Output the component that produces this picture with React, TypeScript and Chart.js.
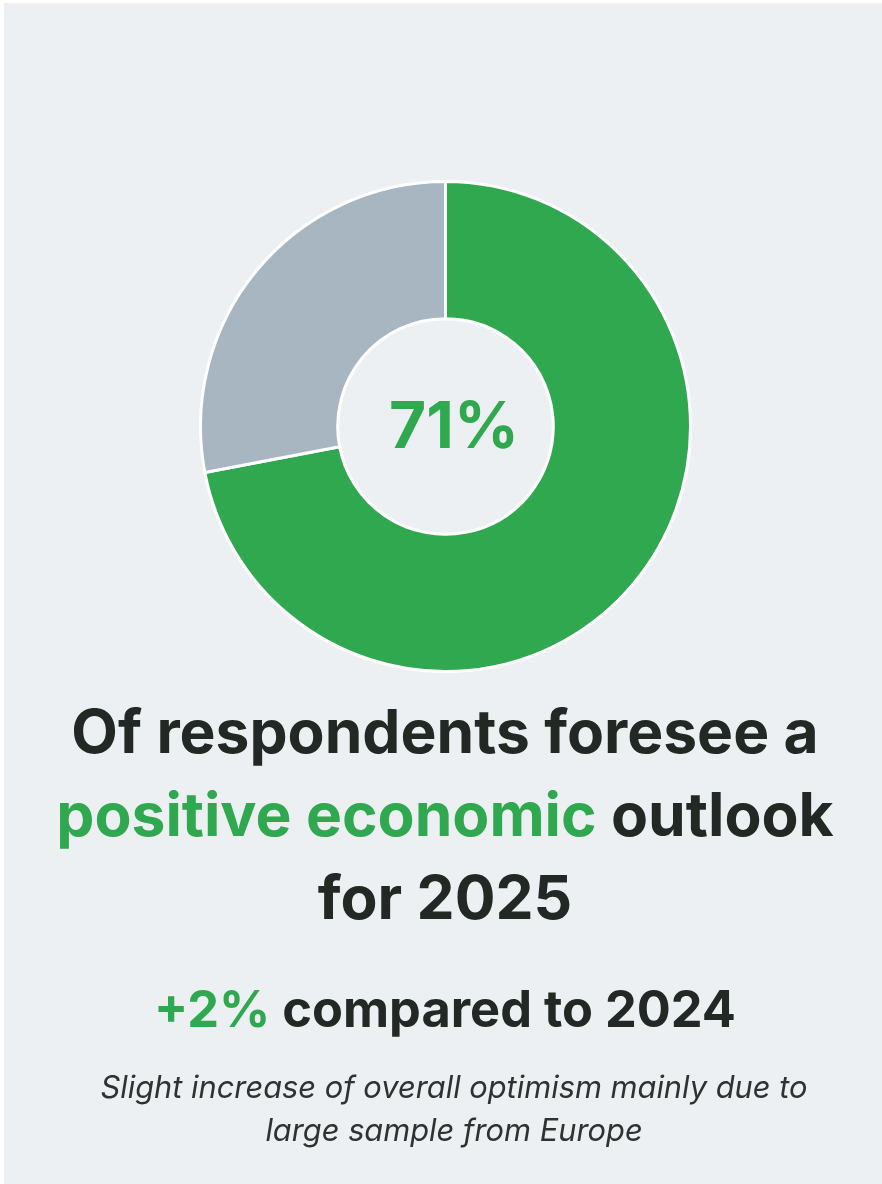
import React, { useEffect, useRef } from "react";
import { Chart, registerables } from "chart.js";

Chart.register(...registerables);

const categories = ["Positive outlook", "Other"];
const values = [72, 28];
const colors = ["#2fa84f", "#a8b6c1"];
const centerLabel = "71%";

const GREEN = "#2fa84f";
const DARK = "#222823";
const BG = "#edf0f3";

export default function App() {
  const ref = useRef<HTMLCanvasElement | null>(null);

  useEffect(() => {
    if (!ref.current) return;
    const chart = new Chart(ref.current, {
      type: "doughnut",
      data: {
        labels: categories,
        datasets: [
          {
            data: values,
            backgroundColor: colors,
            borderColor: "#ffffff",
            borderWidth: 3,
            hoverOffset: 0,
            offset: 0,
          },
        ],
      },
      options: {
        responsive: false,
        maintainAspectRatio: false,
        animation: false,
        cutout: "44%",
        layout: { padding: 0 },
        plugins: {
          legend: { display: false },
          tooltip: { enabled: false },
        },
        events: [],
      },
    });
    return () => chart.destroy();
  }, []);

  return (
    <div
      style={{
        position: "fixed",
        left: 4,
        top: 3,
        right: 0,
        bottom: 0,
        background: BG,
        fontFamily: "Inter, 'Noto Sans', sans-serif",
      }}
    >
      <canvas
        ref={ref}
        width={493}
        height={493}
        style={{ position: "absolute", left: 194.5, top: 176.5, width: 493, height: 493 }}
      />
      <div
        style={{
          position: "absolute",
          left: 195 + 9,
          top: 177 + 246 - 41,
          width: 492,
          height: 80,
          lineHeight: "80px",
          textAlign: "center",
          color: GREEN,
          fontWeight: 700,
          fontSize: 64,
        }}
      >
        {centerLabel}
      </div>
      <div
        style={{
          position: "absolute",
          left: -4,
          width: 890,
          top: 687,
          textAlign: "center",
          color: DARK,
          fontWeight: 700,
          fontSize: 60.5,
          lineHeight: "83px",
        }}
      >
        Of respondents foresee a
        <br />
        <span style={{ color: GREEN }}>positive economic</span> outlook
        <br />
        for 2025
      </div>
      <div
        style={{
          position: "absolute",
          left: -4,
          width: 890,
          top: 976,
          textAlign: "center",
          color: DARK,
          fontWeight: 700,
          fontSize: 50.5,
          lineHeight: "60px",
        }}
      >
        <span style={{ color: GREEN }}>+2%</span> compared to 2024
      </div>
      <div
        style={{
          position: "absolute",
          left: 5,
          width: 890,
          top: 1062,
          textAlign: "center",
          color: "#2e3230",
          fontStyle: "italic",
          fontWeight: 400,
          fontSize: 30.8,
          lineHeight: "43px",
        }}
      >
        Slight increase of overall optimism mainly due to
        <br />
        large sample from Europe
      </div>
    </div>
  );
}
